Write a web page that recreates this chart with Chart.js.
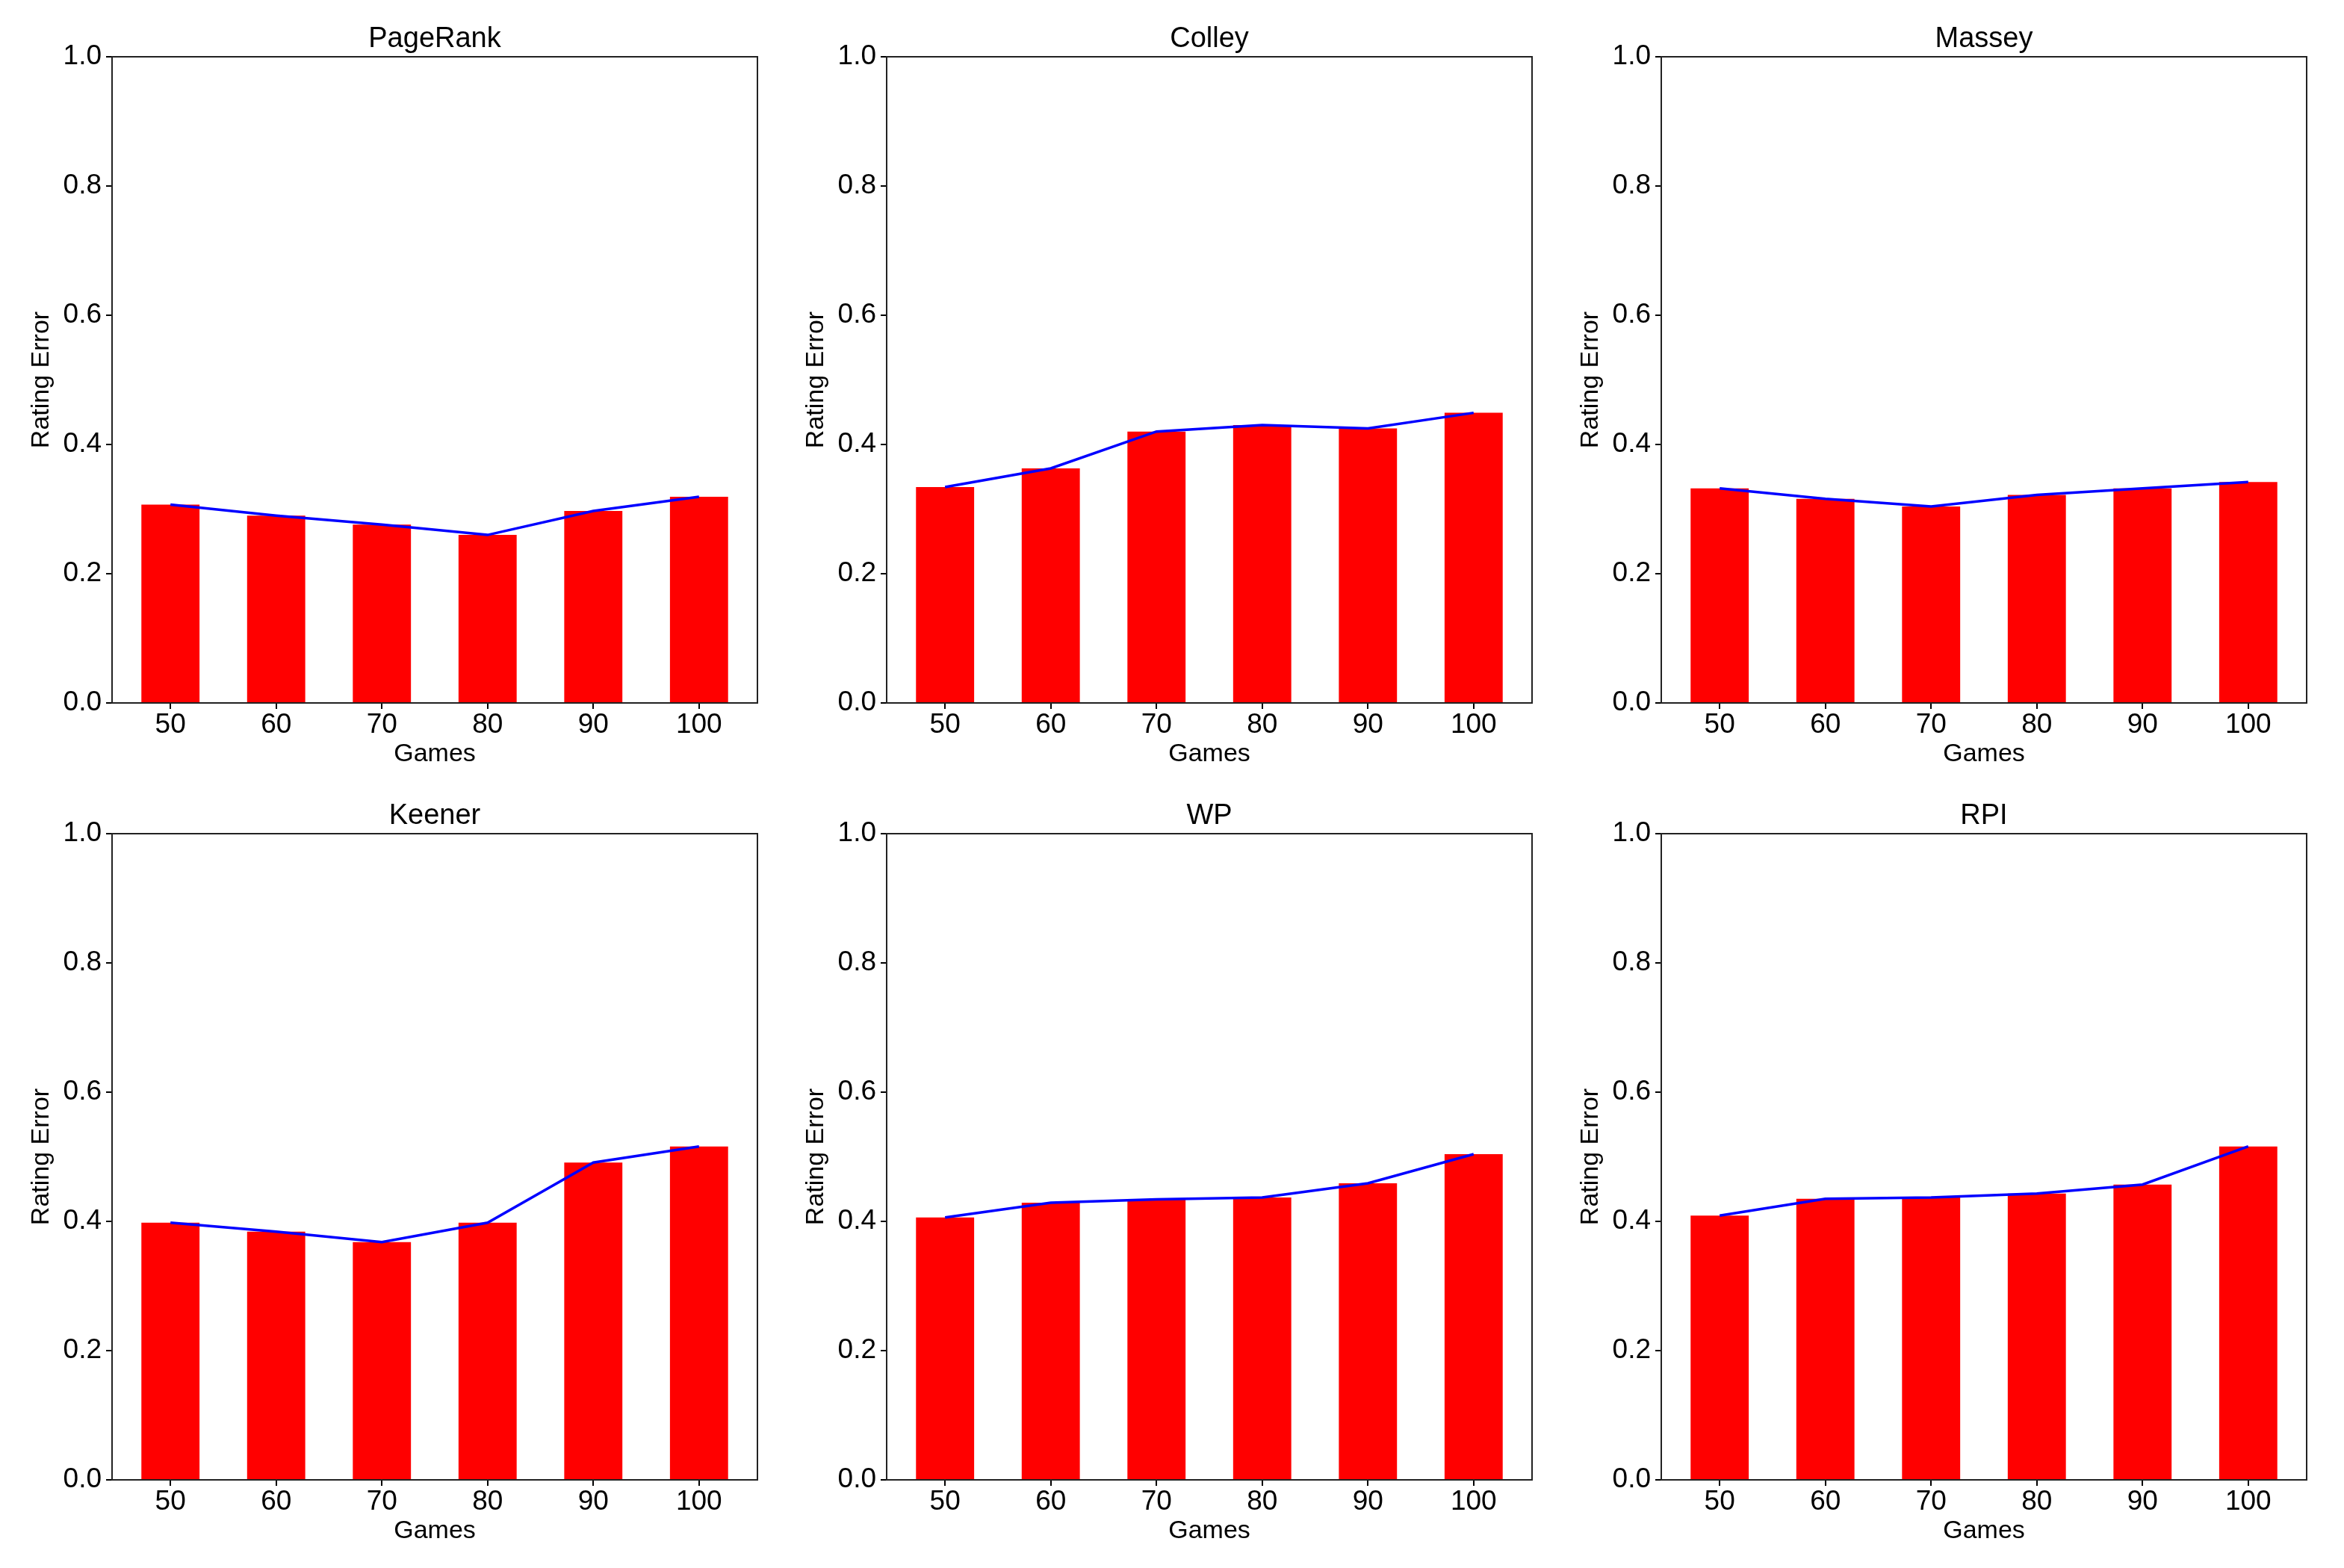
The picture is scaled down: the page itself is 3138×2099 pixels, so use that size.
<!DOCTYPE html>
<html lang="en">
<head>
  <meta charset="UTF-8">
  <title>Rating Error vs Games</title>
  <script src="https://cdn.jsdelivr.net/npm/chart.js"></script>
  <style>
    body { margin: 0; background: #fff; width: 3138px; height: 2099px; position: relative; overflow: hidden; }
    canvas { position: absolute; }
  </style>
</head>
<body>

<canvas id="c0"></canvas>
<canvas id="c1"></canvas>
<canvas id="c2"></canvas>
<canvas id="c3"></canvas>
<canvas id="c4"></canvas>
<canvas id="c5"></canvas>

<script>
  // data
  const games = [50, 60, 70, 80, 90, 100];
  const yTicks = [0, 0.2, 0.4, 0.6, 0.8, 1.0];
  const methods = ['PageRank', 'Colley', 'Massey', 'Keener', 'WP', 'RPI'];

  const pageRank = [0.307, 0.290, 0.276, 0.260, 0.297, 0.319];
  const colley   = [0.334, 0.363, 0.420, 0.430, 0.425, 0.449];
  const massey   = [0.332, 0.316, 0.304, 0.322, 0.332, 0.342];
  const keener   = [0.398, 0.384, 0.368, 0.398, 0.491, 0.516];
  const wp       = [0.406, 0.429, 0.434, 0.437, 0.459, 0.504];
  const rpi      = [0.409, 0.435, 0.437, 0.443, 0.457, 0.516];

  const errors = [pageRank, colley, massey, keener, wp, rpi];

  const FONT = '"Liberation Sans", Arial, sans-serif';

  // box around the plot area, like matplotlib spines
  const frame = {
    id: 'frame',
    afterDraw(chart) {
      const a = chart.chartArea, ctx = chart.ctx;
      ctx.save();
      ctx.strokeStyle = '#222';
      ctx.lineWidth = 2;
      ctx.strokeRect(a.left, a.top, a.right - a.left, a.bottom - a.top);
      ctx.restore();
    }
  };

  const W = 1040, H = 1040;
  const colLeft = [0, 1037, 2074];
  const rowTop = [0, 1040];

  methods.forEach((name, i) => {
    const cv = document.getElementById('c' + i);
    cv.width = W; cv.height = H;
    cv.style.width = W + 'px'; cv.style.height = H + 'px';
    cv.style.left = colLeft[i % 3] + 'px';
    cv.style.top = rowTop[Math.floor(i / 3)] + 'px';

    const pts = errors[i].map((v, k) => ({ x: games[k], y: v }));

    new Chart(cv.getContext('2d'), {
      type: 'bar',
      data: {
        datasets: [
          {
            type: 'line',
            data: pts,
            borderColor: '#0000ff',
            borderWidth: 3.5,
            pointRadius: 0,
            tension: 0,
            order: 0
          },
          {
            type: 'bar',
            data: pts,
            backgroundColor: '#ff0000',
            borderWidth: 0,
            barPercentage: 0.55,
            categoryPercentage: 1,
            order: 1
          }
        ]
      },
      options: {
        responsive: false,
        animation: false,
        devicePixelRatio: 1,
        layout: { padding: { right: 26 } },
        plugins: {
          legend: { display: false },
          tooltip: { enabled: false },
          title: {
            display: true,
            fullSize: false,
            text: name,
            color: '#000',
            font: { family: FONT, size: 38, weight: 'normal', lineHeight: 1.1 },
            padding: { top: 32, bottom: 2.2 }
          }
        },
        scales: {
          x: {
            type: 'linear',
            min: 44.475,
            max: 105.525,
            offset: false,
            afterBuildTicks: s => { s.ticks = games.map(v => ({ value: v })); },
            afterFit: s => { s.height = 99; },
            grid: { offset: false, drawOnChartArea: false, drawTicks: true, tickLength: 8, color: '#000', lineWidth: 2 },
            border: { display: false },
            ticks: { color: '#000', padding: 0, font: { family: FONT, size: 37 }, maxRotation: 0 },
            title: {
              display: true,
              text: 'Games',
              color: '#000',
              font: { family: FONT, size: 34 },
              padding: { top: 10, bottom: 10 }
            }
          },
          y: {
            min: 0,
            max: 1,
            afterBuildTicks: s => { s.ticks = yTicks.map(v => ({ value: v })); },
            afterFit: s => { s.width = 150; },
            grid: { drawOnChartArea: false, drawTicks: true, tickLength: 8, color: '#000', lineWidth: 2 },
            border: { display: false },
            ticks: {
              color: '#000',
              padding: 6,
              font: { family: FONT, size: 37 },
              callback: v => Number(v).toFixed(1)
            },
            title: {
              display: true,
              text: 'Rating Error',
              color: '#000',
              font: { family: FONT, size: 34 },
              padding: { top: 35, bottom: 0 }
            }
          }
        }
      },
      plugins: [frame]
    });
  });
</script>
</body>
</html>
